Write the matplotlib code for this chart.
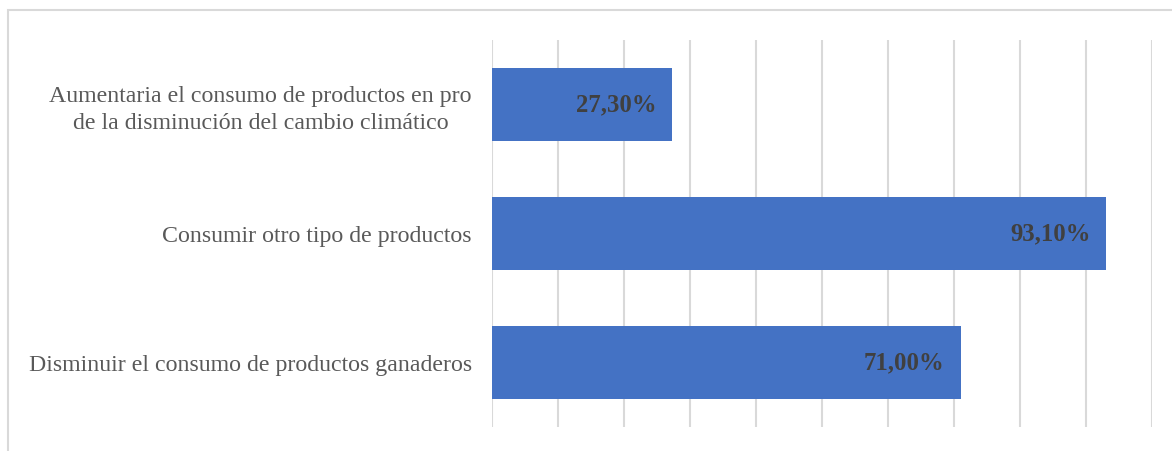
import matplotlib
matplotlib.use("Agg")
import matplotlib.pyplot as plt
from matplotlib.patches import Rectangle

categorias = [
    "Aumentaria el consumo de productos en pro\nde la disminución del cambio climático",
    "Consumir otro tipo de productos",
    "Disminuir el consumo de productos ganaderos",
]
porcentajes = [27.3, 93.1, 71.0]

plt.rcParams["font.family"] = ["Liberation Serif", "DejaVu Serif"]

W, H = 1172, 451
fig = plt.figure(figsize=(W / 100, H / 100), dpi=100)

# marco gris alrededor del gráfico
fig.patches.append(Rectangle((8 / W, -0.1), 1.2, 1.1 - 10 / H, transform=fig.transFigure,
                             fill=False, edgecolor="#D9D9D9", linewidth=1.5))

ax = fig.add_axes([492 / W, 1 - 427 / H, 660 / W, 387 / H])
pos = list(range(len(categorias)))
ax.barh(pos, porcentajes, height=0.566, color="#4472C4", zorder=2)

ax.set_xlim(0, 100)
ax.set_ylim(len(categorias) - 0.5, -0.5)
ax.set_xticks(range(0, 101, 10))
ax.set_xticklabels([])
ax.tick_params(axis="x", length=0)
ax.tick_params(axis="y", length=0, pad=14.4)
ax.grid(axis="x", color="#D9D9D9", linewidth=1.5, zorder=0)
for s in ax.spines.values():
    s.set_visible(False)

ax.set_yticks(pos)
ax.set_yticklabels(categorias, fontsize=17.2, color="#595959")
for t in ax.get_yticklabels():
    t.set_multialignment("center")
    t.set_linespacing(1.4)

for y, v in zip(pos, porcentajes):
    etiqueta = f"{v:.2f}".replace(".", ",") + "%"
    ax.text(v - 2.4, y, etiqueta, ha="right", va="center", fontsize=17.8,
            fontweight="bold", color="#404040", zorder=3)

fig.savefig("out.png", dpi=100)
